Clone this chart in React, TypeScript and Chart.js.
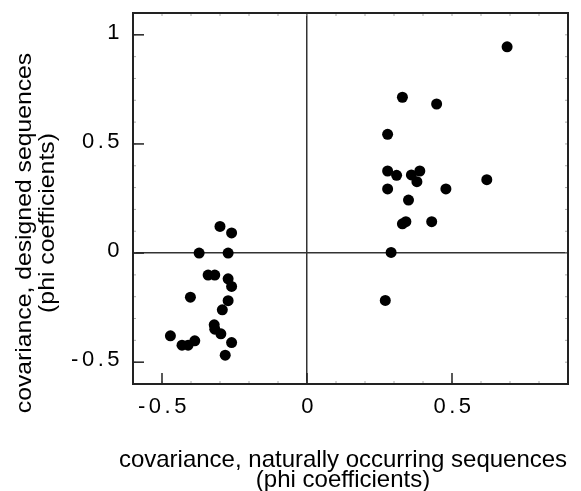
import { useEffect, useRef } from "react";
import { Chart, registerables } from "chart.js";

Chart.register(...registerables);

// covariance, naturally occurring sequences (x) vs designed sequences (y)
const naturalCov = [
  -0.30, -0.26, -0.372, -0.272, -0.341, -0.318, -0.272, -0.26, -0.402, -0.272,
  -0.292, -0.32, -0.318, -0.297, -0.471, -0.431, -0.41, -0.387, -0.26, -0.282,
  0.69, 0.329, 0.447, 0.278, 0.278, 0.309, 0.36, 0.389, 0.379, 0.62,
  0.278, 0.479, 0.35, 0.329, 0.341, 0.43, 0.29, 0.27,
];
const designedCov = [
  0.122, 0.092, 0.0, 0.0, -0.101, -0.101, -0.118, -0.153, -0.202, -0.218,
  -0.26, -0.329, -0.349, -0.37, -0.379, -0.422, -0.422, -0.402, -0.41, -0.468,
  0.945, 0.714, 0.683, 0.544, 0.376, 0.356, 0.358, 0.376, 0.327, 0.336,
  0.294, 0.294, 0.243, 0.134, 0.144, 0.144, 0.003, -0.217,
];

const xTicks = [-0.5, 0, 0.5];
const yTicks = [-0.5, 0, 0.5, 1];
const xRange = [-0.6, 0.9];
const yRange = [-0.6, 1.1];
const xTitle = ["covariance, naturally occurring sequences", "(phi coefficients)"];
const yTitle = ["covariance, designed sequences", "(phi coefficients)"];

const FONT = '"Liberation Sans", Arial, Helvetica, sans-serif';

const framePlugin = {
  id: "frame",
  beforeDraw(chart: any) {
    chart.ctx.letterSpacing = "3.5px";
  },
  afterDraw(chart: any) {
    const ctx = chart.ctx;
    const { left, right, top, bottom } = chart.chartArea;
    const xs = chart.scales.x;
    const ys = chart.scales.y;
    ctx.save();
    ctx.letterSpacing = "0px";
    const line = (x1: number, y1: number, x2: number, y2: number) => {
      ctx.beginPath();
      ctx.moveTo(x1, y1);
      ctx.lineTo(x2, y2);
      ctx.stroke();
    };
    // minor ticks
    ctx.strokeStyle = "#aaa";
    ctx.lineWidth = 1;
    for (let k = -5; k <= 8; k++) {
      const px = xs.getPixelForValue(k / 10);
      line(px, bottom, px, bottom - 3);
      line(px, top, px, top + 3);
    }
    for (let k = -5; k <= 10; k++) {
      const py = ys.getPixelForValue(k / 10);
      line(left, py, left + 3, py);
      line(right, py, right - 3, py);
    }
    // frame
    ctx.strokeStyle = "#222";
    ctx.lineWidth = 2;
    ctx.strokeRect(left, top, right - left, bottom - top);
    // major ticks (inward)
    ctx.lineWidth = 1.5;
    xTicks.forEach((v) => {
      const px = xs.getPixelForValue(v);
      line(px, bottom, px, bottom - 11);
    });
    yTicks.forEach((v) => {
      const py = ys.getPixelForValue(v);
      line(left, py, left + 11, py);
    });
    // axis titles
    ctx.fillStyle = "#000";
    ctx.font = `24px ${FONT}`;
    ctx.textAlign = "center";
    ctx.textBaseline = "alphabetic";
    const cx = (left + right) / 2 - 7.5;
    ctx.fillText(xTitle[0], cx, bottom + 83);
    ctx.fillText(xTitle[1], cx, bottom + 103);
    ctx.font = `22.5px ${FONT}`;
    ctx.save();
    ctx.translate(30.5, 233);
    ctx.rotate(-Math.PI / 2);
    ctx.scale(1.1, 1);
    ctx.fillText(yTitle[0], 0, 0);
    ctx.restore();
    ctx.save();
    ctx.translate(54, 223);
    ctx.rotate(-Math.PI / 2);
    ctx.scale(1.1, 1);
    ctx.fillText(yTitle[1], 0, 0);
    ctx.restore();
    ctx.restore();
  },
};

export default function App() {
  const ref = useRef<HTMLCanvasElement | null>(null);
  useEffect(() => {
    if (!ref.current) return;
    const points = naturalCov.map((x, i) => ({ x, y: designedCov[i] }));
    const fmt = (v: any) => (Number(v) === 0 ? "0" : String(Number(v)));
    const gridColor = (c: any) =>
      c.tick && c.tick.value === 0 ? "#333" : "rgba(0,0,0,0)";
    const chart = new Chart(ref.current, {
      type: "scatter",
      data: {
        datasets: [
          {
            data: points,
            backgroundColor: "#000",
            borderWidth: 0,
            pointRadius: 5.5,
            pointHoverRadius: 5.5,
          },
        ],
      },
      options: {
        animation: false,
        responsive: false,
        events: [],
        layout: { padding: { top: 13, right: 13, left: 0, bottom: 0 } },
        plugins: { legend: { display: false }, tooltip: { enabled: false } },
        scales: {
          x: {
            type: "linear",
            min: xRange[0],
            max: xRange[1],
            afterBuildTicks: (s: any) => {
              s.ticks = xTicks.map((value) => ({ value }));
            },
            afterFit: (s: any) => {
              s.height = 107;
              s.paddingLeft = 0;
              s.paddingRight = 0;
            },
            grid: { drawTicks: false, color: gridColor, lineWidth: 1.5 },
            border: { display: false },
            ticks: {
              padding: 10,
              color: "#000",
              font: { family: FONT, size: 22 },
              callback: fmt,
              maxRotation: 0,
              labelOffset: 2,
            },
          },
          y: {
            type: "linear",
            min: yRange[0],
            max: yRange[1],
            afterBuildTicks: (s: any) => {
              s.ticks = yTicks.map((value) => ({ value }));
            },
            afterFit: (s: any) => {
              s.width = 133;
              s.paddingTop = 0;
              s.paddingBottom = 0;
            },
            grid: { drawTicks: false, color: gridColor, lineWidth: 1.5 },
            border: { display: false },
            ticks: {
              padding: 10,
              color: "#000",
              font: { family: FONT, size: 22 },
              callback: fmt,
              labelOffset: -2,
            },
          },
        },
      },
      plugins: [framePlugin],
    });
    return () => chart.destroy();
  }, []);
  return (
    <div style={{ position: "fixed", left: 0, top: 0, width: 581, height: 491, background: "#fff" }}>
      <canvas ref={ref} width={581} height={491} style={{ display: "block" }} />
    </div>
  );
}
